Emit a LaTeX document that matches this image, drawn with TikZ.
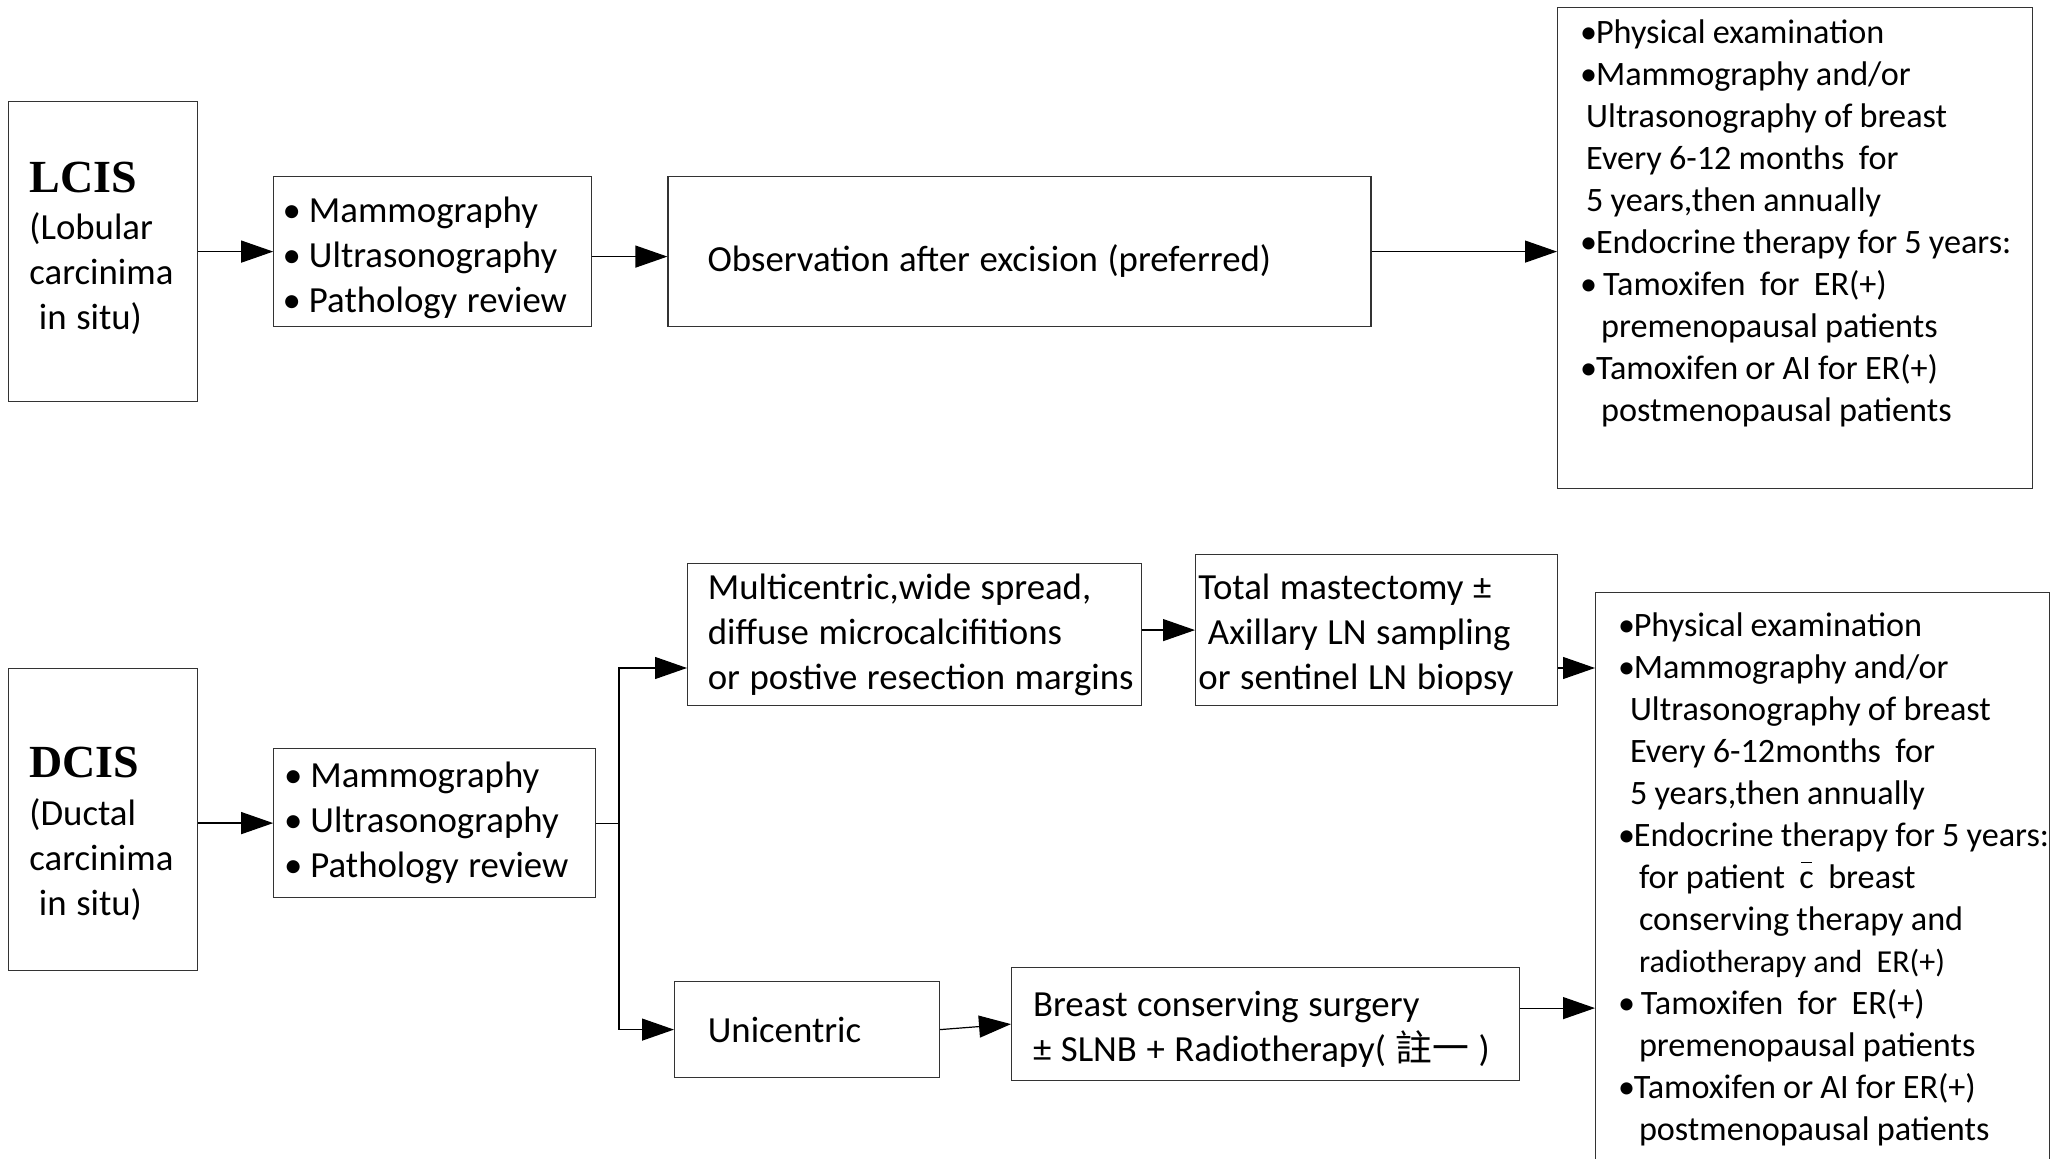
\documentclass[tikz,border=0pt]{standalone}
\usepackage{fontspec}
\setmainfont{Carlito}
\newfontfamily\headfont{Liberation Serif}
\newfontfamily\cjk{Noto Sans CJK TC}
\usetikzlibrary{arrows.meta,positioning}

\newcommand{\bitem}{\makebox[13.2pt][l]{•}}
\newcommand{\fbul}{\makebox[7.9pt][l]{•}}
\newcommand{\cbar}{\makebox[0pt][l]{\hspace{0.8pt}\rule[12.5pt]{5.6pt}{0.7pt}}c}

\tikzset{
  box/.style={draw=black!80, line width=0.6pt, anchor=north west, inner sep=0pt,
    align=left, font=\fontsize{18.4}{22.5}\selectfont},
  pad/.style={execute at begin node={\leftskip=#1\relax\spaceskip=.26em\relax}},
  follow/.style={box, font=\fontsize{17.1}{21}\selectfont},
  fpad/.style={execute at begin node={\leftskip=#1\relax\spaceskip=.21em\relax}},
  arr/.style={-{Triangle[length=16pt,width=11pt]}, line width=0.6pt},
}

\begin{document}
\begin{tikzpicture}[x=1pt, y=-1pt]
  \useasboundingbox (0,0) rectangle (1028.5,579.5);
  \clip (0,0) rectangle (1028.5,579.5);
  % Define nodes: LCIS
  \node[box, pad=10.4pt, text width=94.5pt, text height=45.3pt, text depth=104.7pt] (lcis) at (4,50.5)
    {{\headfont\bfseries\fontsize{23}{23}\selectfont LCIS}\\[1pt](Lobular\\carcinima\\\ in situ)};
  \node[box, pad=4.4pt, text width=159pt, text height=23.2pt, text depth=51.8pt, right=37.5pt of lcis] (scan1)
    {\bitem Mammography\\\bitem Ultrasonography\\\bitem Pathology review};
  \node[box, pad=19.8pt, text width=351.5pt, text height=47.4pt, text depth=27.6pt, right=37.5pt of scan1] (obs)
    {Observation after excision (preferred)};
  \node[follow, fpad=11.3pt, text width=237.5pt, text height=18.4pt, text depth=222.3pt] (fu1) at (778.5,3.3)
    {\fbul Physical examination\\
     \fbul Mammography and/or\\
     \hspace*{3pt}Ultrasonography of breast\\
     \hspace*{3pt}Every 6-12 months\ \ for\\
     \hspace*{3pt}5 years,then annually\\
     \fbul Endocrine therapy for 5 years:\\
     \fbul\ Tamoxifen\ \ for\ \ ER(+)\\
     \hspace*{10.5pt}premenopausal patients\\
     \fbul Tamoxifen or AI for ER(+)\\
     \hspace*{10.5pt}postmenopausal patients};
  % Define nodes: DCIS
  \node[box, pad=10.4pt, text width=94.5pt, text height=54.3pt, text depth=96.7pt] (dcis) at (4,334)
    {{\headfont\bfseries\fontsize{23}{23}\selectfont DCIS}\\[1.5pt](Ductal\\carcinima\\\ in situ)};
  \node[box, pad=5.1pt, text width=161pt, minimum height=74.5pt, right=37.5pt of dcis, yshift=-1.75pt] (scan2)
    {\bitem Mammography\\\bitem Ultrasonography\\\bitem Pathology review};
  \node[box, pad=10.1pt, text width=227pt, text height=18pt, text depth=53pt] (multi) at (343.5,281.5)
    {Multicentric,wide spread,\\diffuse microcalcifitions\\\mbox{or postive resection margins}};
  \node[box, pad=1.4pt, text width=181pt, text height=22.5pt, text depth=53pt] (tm) at (597.5,277)
    {Total mastectomy ±\\\ Axillary LN sampling\\or sentinel LN biopsy};
  \node[box, pad=16.6pt, text width=132.5pt, minimum height=48pt] (uni) at (337,490.5)
    {Unicentric};
  \node[box, pad=10.7pt, text width=254pt, text height=24.5pt, text depth=32pt] (bcs) at (505.5,483.5)
    {Breast conserving surgery\\± SLNB + Radiotherapy( {\cjk 註一} )};
  \node[follow, fpad=11.2pt, text width=227pt, text height=22pt, text depth=300pt] (fu2) at (797.5,295.8)
    {\fbul Physical examination\\
     \fbul Mammography and/or\\
     \hspace*{6pt}Ultrasonography of breast\\
     \hspace*{6pt}Every 6-12months\ \ for\\
     \hspace*{6pt}5 years,then annually\\
     \mbox{\fbul Endocrine therapy for 5 years:}\\
     \hspace*{10.5pt}for patient\ \ \cbar\ \ breast\\
     \hspace*{10.5pt}conserving therapy and\\
     \hspace*{10.5pt}{\fontsize{16}{21}\selectfont radiotherapy and\ \ ER(+)}\\
     \fbul\ Tamoxifen\ \ for\ \ ER(+)\\
     \hspace*{10.5pt}premenopausal patients\\
     \fbul Tamoxifen or AI for ER(+)\\
     \hspace*{10.5pt}postmenopausal patients};
  \coordinate (fork) at (309.5,334);
  % Connect nodes
  \draw[arr] (lcis.east) -- (lcis.east -| scan1.west);
  \draw[arr] ([yshift=-2.5pt]scan1.east) -- ([yshift=-2.5pt]scan1.east -| obs.west);
  \draw[arr] (obs.east) -- (obs.east -| fu1.west);
  \draw[arr] (scan2.west -| dcis.east) -- (scan2.west);
  \draw (scan2.east) -- (scan2.east -| fork);
  \draw[arr] (fork |- uni.west) -- (fork) -- (multi.west |- fork);
  \draw[arr] (fork |- uni.west) -- (uni.west);
  \draw[arr] (multi.east |- tm.west) -- (tm.west);
  \draw[arr] (tm.east |- fork) -- (fu2.west |- fork);
  \draw[arr] (uni.east) -- (bcs.west);
  \draw[arr] ([yshift=8pt]bcs.east) -- ([yshift=8pt]bcs.east -| fu2.west);
\end{tikzpicture}
\end{document}
